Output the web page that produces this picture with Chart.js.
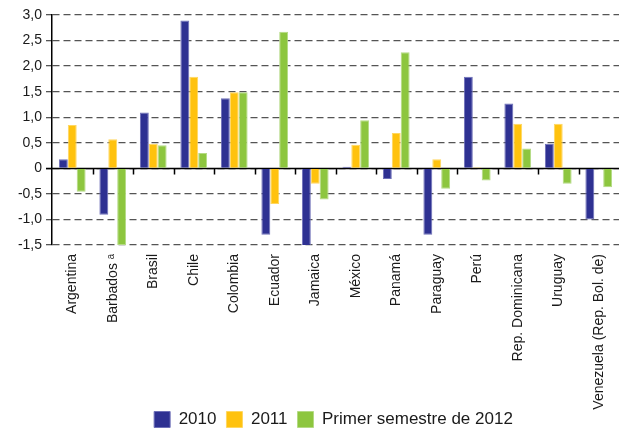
<!DOCTYPE html>
<html>
<head>
<meta charset="utf-8">
<script src="https://cdn.jsdelivr.net/npm/chart.js@4"></script>
<style>
  html, body { margin: 0; padding: 0; background: #ffffff; }
  #wrap { width: 620px; height: 428px; }
</style>
</head>
<body>
<div id="wrap"><canvas id="growth-chart"></canvas></div>
<script>
const categories = ['Argentina', 'Barbados ᵃ', 'Brasil', 'Chile', 'Colombia', 'Ecuador', 'Jamaica',
    'México', 'Panamá', 'Paraguay', 'Perú', 'Rep. Dominicana', 'Uruguay', 'Venezuela (Rep. Bol. de)'];
const seriesLabels = ['2010', '2011', 'Primer semestre de 2012'];
const values2010 = [0.18, -0.91, 1.09, 2.89, 1.37, -1.30, -1.60, 0.03, -0.21, -1.30, 1.79, 1.27, 0.48, -1.00];
const values2011 = [0.85, 0.57, 0.48, 1.79, 1.49, -0.70, -0.30, 0.46, 0.69, 0.18, 0.02, 0.87, 0.87, 0.00];
const values2012 = [-0.46, -1.50, 0.45, 0.30, 1.49, 2.67, -0.61, 0.94, 2.27, -0.40, -0.24, 0.39, -0.30, -0.37];
const yMin = -1.5, yMax = 3.0, yStep = 0.5;

document.addEventListener('DOMContentLoaded', function() {
    initGrowthChart();
});

function initGrowthChart() {
    const canvas = document.getElementById('growth-chart');
    const ctx = canvas.getContext('2d');
    const font = 'Liberation Sans, Arial, sans-serif';

    // solid zero line with little tick marks between countries
    const zeroLine = {
        id: 'zeroLine',
        beforeDatasetsDraw(chart) {
            const x = chart.scales.x, y = chart.scales.y;
            const area = chart.chartArea;
            const y0 = Math.round(y.getPixelForValue(0)) + 0.5;
            const half = (x.getPixelForValue(1) - x.getPixelForValue(0)) / 2;
            const c = chart.ctx;
            c.save();
            c.strokeStyle = '#000000';
            c.lineWidth = 1.5;
            c.beginPath();
            c.moveTo(area.left - 6, y0);
            c.lineTo(area.right, y0);
            for (let i = 0; i < categories.length - 1; i++) {
                const px = Math.round(x.getPixelForValue(i) + half) + 0.5;
                c.moveTo(px, y0);
                c.lineTo(px, y0 + 6);
            }
            c.stroke();
            c.restore();
        }
    };

    // legend sits lower and a bit right of where the layout puts it
    const legendShift = {
        id: 'legendShift',
        afterLayout(chart) {
            chart.legend.left += 24;
            chart.legend.right += 24;
            chart.legend.top -= 10;
            chart.legend.bottom -= 10;
        }
    };

    new Chart(ctx, {
        type: 'bar',
        data: {
            labels: categories,
            datasets: [{
                label: seriesLabels[0],
                data: values2010,
                backgroundColor: '#2e3192',
                borderColor: '#6e70b8',
                borderWidth: 1
            }, {
                label: seriesLabels[1],
                data: values2011,
                backgroundColor: '#ffc20e',
                borderColor: '#ffd760',
                borderWidth: 1
            }, {
                label: seriesLabels[2],
                data: values2012,
                backgroundColor: '#8dc63f',
                borderColor: '#b4da84',
                borderWidth: 1
            }]
        },
        options: {
            responsive: true,
            maintainAspectRatio: false,
            animation: false,
            layout: {
                padding: { top: 15, right: 1, bottom: -20, left: 0 }
            },
            datasets: {
                bar: {
                    categoryPercentage: 0.66,
                    barPercentage: 1
                }
            },
            scales: {
                x: {
                    offset: true,
                    grid: { display: false },
                    border: { display: false },
                    ticks: {
                        autoSkip: false,
                        minRotation: 90,
                        maxRotation: 90,
                        padding: 1,
                        color: '#1a1a1a',
                        font: { family: font, size: 14 }
                    },
                    afterFit: function(scale) {
                        scale.height = 166;
                    }
                },
                y: {
                    min: yMin,
                    max: yMax,
                    ticks: {
                        stepSize: yStep,
                        padding: 4,
                        color: '#1a1a1a',
                        font: { family: font, size: 14 },
                        callback: function(value) {
                            return value === 0 ? '0' : value.toFixed(1).replace('.', ',');
                        }
                    },
                    grid: {
                        tickLength: 6,
                        lineWidth: 1.3,
                        color: '#555555'
                    },
                    border: {
                        display: true,
                        color: '#000000',
                        width: 1.5,
                        dash: [7, 4]
                    },
                    afterFit: function(scale) {
                        scale.width = 52;
                    }
                }
            },
            plugins: {
                legend: {
                    position: 'bottom',
                    labels: {
                        boxWidth: 16,
                        boxHeight: 16,
                        padding: 10,
                        color: '#1a1a1a',
                        font: { family: font, size: 17 }
                    }
                },
                tooltip: { enabled: false }
            }
        },
        plugins: [zeroLine, legendShift]
    });
}
</script>
</body>
</html>
